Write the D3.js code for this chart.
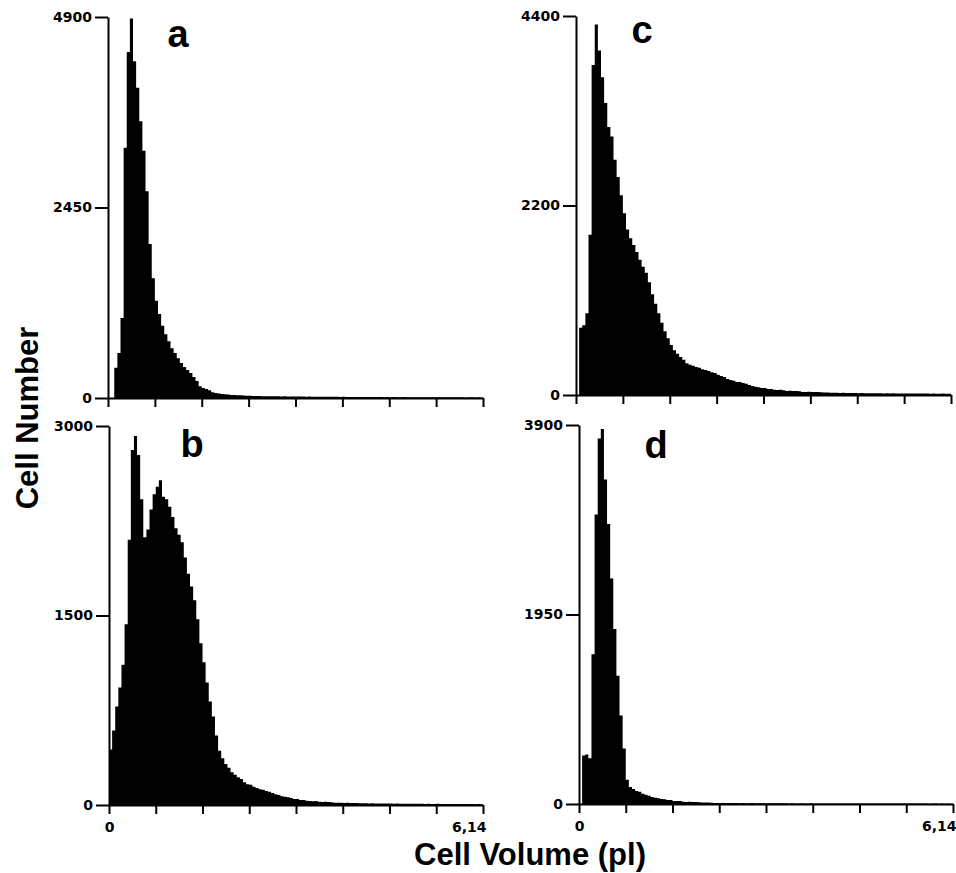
<!DOCTYPE html>
<html>
<head>
<meta charset="utf-8">
<script src="https://cdnjs.cloudflare.com/ajax/libs/d3/7.8.5/d3.min.js"></script>
<style>
    body { margin: 0; background: #fff; }
    .tick text { font-family: "DejaVu Sans", sans-serif; font-weight: bold; font-size: 14px; fill: #000; }
    .axisTitle { font-family: "Liberation Sans", Arial, sans-serif; font-weight: bold; font-size: 31px; fill: #000; }
    .panelLetter { font-family: "Liberation Sans", Arial, sans-serif; font-weight: bold; font-size: 38px; fill: #000; }
</style>
</head>
<body>
<div id="chart"></div>
<script>
// Volume channels: 120 bins between 0 and 6.14 pl
var volumeMax = 6.14;
var binCount = 120;

// Cell counts per bin
var countsA = [
    0, 0, 390, 580, 1030, 3220, 4450, 4880, 4330, 3990,
    3560, 3180, 2660, 1980, 1540, 1250, 1080, 930, 820, 730,
    640, 580, 510, 450, 400, 360, 320, 270, 220, 150,
    130, 115, 100, 75, 65, 58, 52, 48, 44, 40,
    38, 36, 34, 32, 30, 28, 27, 26, 25, 24,
    23, 22, 23, 21, 22, 20, 21, 19, 20, 19,
    18, 19, 18, 17, 18, 17, 16, 17, 16, 16,
    15, 16, 15, 15, 14, 15, 14, 14, 13, 14,
    13, 13, 12, 13, 12, 12, 13, 12, 11, 12,
    11, 12, 11, 11, 12, 11, 10, 11, 11, 10,
    10, 11, 10, 10, 9, 10, 10, 9, 10, 9,
    9, 10, 9, 9, 8, 9, 9, 8, 9, 8
];
var countsB = [
    440, 590, 780, 930, 1110, 1430, 2100, 2810, 2920, 2770,
    2420, 2120, 2180, 2340, 2460, 2520, 2570, 2440, 2420, 2360,
    2280, 2190, 2140, 2080, 1960, 1830, 1730, 1620, 1470, 1280,
    1130, 970, 820, 700, 550, 430, 370, 325, 295, 260,
    240, 220, 205, 180, 165, 160, 145, 135, 125, 120,
    110, 105, 95, 85, 80, 70, 65, 62, 55, 48,
    48, 40, 40, 33, 32, 30, 32, 25, 24, 25,
    23, 22, 18, 17, 18, 16, 17, 15, 16, 15,
    14, 13, 14, 12, 13, 12, 12, 11, 12, 11,
    11, 10, 11, 10, 10, 9, 10, 9, 9, 10,
    9, 8, 9, 8, 8, 9, 8, 8, 7, 8,
    7, 8, 7, 7, 8, 7, 7, 6, 7, 6
];
var countsC = [
    0, 780, 810, 950, 1860, 3830, 4300, 4000, 3690, 3390,
    3110, 3000, 2730, 2530, 2320, 2110, 1920, 1820, 1740, 1660,
    1570, 1490, 1420, 1310, 1170, 1060, 950, 840, 740, 660,
    580, 520, 480, 440, 410, 370, 350, 340, 325, 315,
    300, 290, 280, 265, 255, 235, 220, 210, 185, 175,
    165, 150, 150, 140, 130, 115, 105, 95, 90, 80,
    80, 70, 70, 60, 58, 60, 55, 46, 48, 45,
    46, 44, 36, 35, 37, 34, 35, 36, 33, 30,
    28, 26, 27, 25, 24, 25, 23, 24, 22, 23,
    21, 22, 20, 21, 20, 19, 20, 19, 18, 19,
    18, 19, 17, 18, 17, 18, 17, 16, 17, 16,
    16, 17, 16, 15, 16, 15, 15, 16, 15, 14
];
var countsD = [
    0, 500, 510, 470, 1540, 2980, 3760, 3860, 3340, 2880,
    2320, 1800, 1320, 910, 570, 250, 175, 155, 135, 125,
    105, 95, 85, 72, 64, 60, 52, 50, 42, 40,
    32, 30, 31, 22, 21, 22, 20, 21, 19, 16,
    15, 16, 14, 11, 10, 11, 10, 10, 11, 10,
    10, 9, 10, 9, 9, 10, 9, 8, 9, 8,
    8, 7, 8, 7, 7, 8, 7, 6, 7, 6,
    6, 7, 6, 6, 7, 6, 6, 5, 6, 6,
    5, 6, 5, 6, 5, 5, 6, 5, 5, 5,
    5, 5, 4, 5, 5, 4, 5, 4, 5, 4,
    4, 5, 4, 4, 5, 4, 4, 4, 4, 4,
    4, 4, 3, 4, 4, 3, 4, 3, 4, 3
];

// Y axis tick values of each panel (0, half, top)
var yTicksA = [0, 2450, 4900];
var yTicksB = [0, 1500, 3000];
var yTicksC = [0, 2200, 4400];
var yTicksD = [0, 1950, 3900];

var xTickLabelFirst = "0";
var xTickLabelLast = "6,14";
var panelNames = ["a", "b", "c", "d"];

// panel boxes on the page (pixels)
var panels = [
    { name: panelNames[0], counts: countsA, ticks: yTicksA, left: 108, right: 483, top: 17, bottom: 398, letterX: 178, letterY: 47, bottomRow: false },
    { name: panelNames[1], counts: countsB, ticks: yTicksB, left: 109, right: 483, top: 426, bottom: 805, letterX: 192, letterY: 457, bottomRow: true },
    { name: panelNames[2], counts: countsC, ticks: yTicksC, left: 576, right: 951, top: 16, bottom: 395, letterX: 642, letterY: 43, bottomRow: false },
    { name: panelNames[3], counts: countsD, ticks: yTicksD, left: 579, right: 953, top: 425, bottom: 804, letterX: 656, letterY: 458, bottomRow: true }
];

var svgWidth = 956;
var svgHeight = 873;

var svg = d3.select("#chart")
    .append("svg")
    .attr("width", svgWidth)
    .attr("height", svgHeight);

var binWidth = volumeMax / binCount;

panels.forEach(function(p) {

    var xScale = d3.scaleLinear()
        .domain([0, volumeMax])
        .range([p.left, p.right]);

    var yScale = d3.scaleLinear()
        .domain([0, d3.max(p.ticks)])
        .range([p.bottom, p.top]);

    var g = svg.append("g");

    // histogram as a stepped area, one step per bin
    var points = p.counts.map(function(c, i) {
        return { v: i * binWidth, c: c };
    });
    points.push({ v: binCount * binWidth, c: p.counts[binCount - 1] });

    var area = d3.area()
        .x(d => xScale(d.v))
        .y0(yScale(0))
        .y1(d => yScale(d.c))
        .curve(d3.curveStepAfter);

    g.append("path")
        .datum(points)
        .attr("d", area)
        .attr("fill", "#000");

    // x axis: 9 ticks pointing down, labels only on the bottom row
    var xTickValues = d3.range(9).map(k => k * volumeMax / 8);
    var xAxis = d3.axisBottom(xScale)
        .tickValues(xTickValues)
        .tickSize(9)
        .tickSizeOuter(0)
        .tickPadding(8)
        .tickFormat(function(d, i) {
            if (!p.bottomRow) return "";
            if (i === 0) return xTickLabelFirst;
            if (i === 8) return xTickLabelLast;
            return "";
        });

    var xg = g.append("g")
        .attr("transform", `translate(0, ${p.bottom})`)
        .call(xAxis);

    xg.selectAll(".tick text")
        .filter((d, i) => i === 8)
        .attr("text-anchor", "end")
        .attr("x", 3);

    // y axis: ticks at 0, half and top
    var yAxis = d3.axisLeft(yScale)
        .tickValues(p.ticks)
        .tickSize(13)
        .tickSizeOuter(0)
        .tickPadding(3)
        .tickFormat(d3.format("d"));

    g.append("g")
        .attr("transform", `translate(${p.left}, 0)`)
        .call(yAxis);

    g.selectAll(".domain, .tick line")
        .attr("stroke", "#000")
        .attr("stroke-width", 2);

    // panel letter
    g.append("text")
        .attr("class", "panelLetter")
        .attr("x", p.letterX)
        .attr("y", p.letterY)
        .attr("text-anchor", "middle")
        .text(p.name);
});

// Axis titles
svg.append("text")
    .attr("class", "axisTitle")
    .attr("transform", "translate(38, 418) rotate(-90)")
    .attr("text-anchor", "middle")
    .text("Cell Number");

svg.append("text")
    .attr("class", "axisTitle")
    .attr("x", 530)
    .attr("y", 865)
    .attr("text-anchor", "middle")
    .text("Cell Volume (pl)");
</script>
</body>
</html>
